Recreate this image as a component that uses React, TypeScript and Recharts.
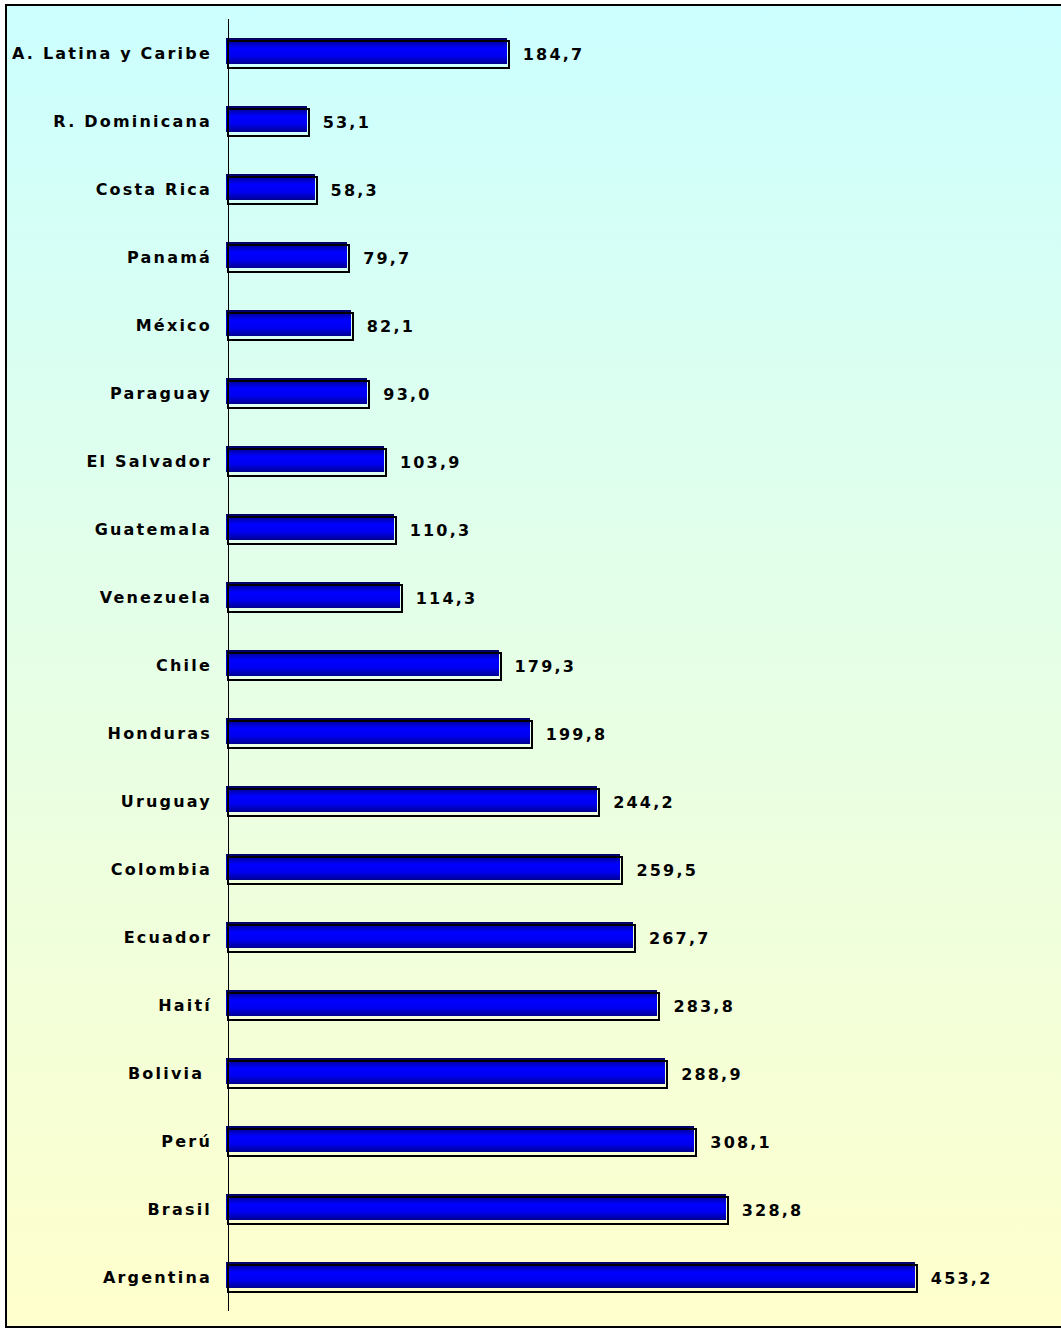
import { BarChart, Bar, XAxis, YAxis, LabelList } from 'recharts';

const countries = [
  'A. Latina y Caribe', 'R. Dominicana', 'Costa Rica', 'Panamá', 'México', 'Paraguay',
  'El Salvador', 'Guatemala', 'Venezuela', 'Chile', 'Honduras', 'Uruguay', 'Colombia',
  'Ecuador', 'Haití', 'Bolivia ', 'Perú', 'Brasil', 'Argentina',
];
const values = [
  184.7, 53.1, 58.3, 79.7, 82.1, 93.0, 103.9, 110.3, 114.3, 179.3, 199.8, 244.2, 259.5,
  267.7, 283.8, 288.9, 308.1, 328.8, 453.2,
];
const valueDomain = [0, 500];

const data = countries.map((name, i) => ({ name, value: values[i] }));

const font = '"DejaVu Sans", Verdana, sans-serif';

function BarShape(props: any) {
  const { x, y, width, height } = props;
  return (
    <g shapeRendering="crispEdges">
      <rect x={x - 2} y={y - 1} width={width} height={height - 2} fill="url(#barFill)" />
      <rect x={x} y={y + 2} width={width} height={height - 1} fill="none" stroke="#000" strokeWidth={2} />
    </g>
  );
}

function CountryTick(props: any) {
  const { x, y, payload } = props;
  return (
    <text x={x} y={y} textAnchor="end" dominantBaseline="central" fontFamily={font}
      fontWeight="bold" fontSize={16} letterSpacing={2.2} fill="#000" style={{ whiteSpace: 'pre' }}>
      {payload.value}
    </text>
  );
}

function ValueLabel(props: any) {
  const { x, y, width, height, value } = props;
  return (
    <text x={x + width + 14} y={y + height / 2 + 1} dominantBaseline="central" fontFamily={font}
      fontWeight="bold" fontSize={16} letterSpacing={2.2} fill="#000">
      {Number(value).toFixed(1).replace('.', ',')}
    </text>
  );
}

export default function App() {
  return (
    <div style={{ position: 'absolute', left: 0, top: 0, width: 1061, height: 1328, overflow: 'hidden', background: '#fff' }}>
      <div style={{
        position: 'absolute', left: 5, top: 4, width: 1100, height: 1320,
        border: '2px solid #000',
        background: 'linear-gradient(to bottom, #ccffff 0%, #e6ffe6 50%, #ffffcc 100%)',
      }}>
        <BarChart width={1070} height={1320} layout="vertical" data={data}
          margin={{ top: 13, right: 89, bottom: 15, left: 0 }} barSize={28}>
          <defs>
            <linearGradient id="barFill" x1="0" y1="0" x2="0" y2="1">
              <stop offset="0%" stopColor="#000050" />
              <stop offset="12%" stopColor="#0000a0" />
              <stop offset="40%" stopColor="#0000ff" />
              <stop offset="70%" stopColor="#0000f0" />
              <stop offset="100%" stopColor="#000090" />
            </linearGradient>
          </defs>
          <XAxis type="number" domain={valueDomain} hide />
          <YAxis type="category" dataKey="name" width={221} tickLine={false} tickSize={0}
            tickMargin={16} axisLine={{ stroke: '#000', strokeWidth: 1, shapeRendering: 'crispEdges' }}
            tick={<CountryTick />} interval={0} />
          <Bar dataKey="value" shape={<BarShape />} isAnimationActive={false}>
            <LabelList dataKey="value" content={<ValueLabel />} />
          </Bar>
        </BarChart>
      </div>
    </div>
  );
}
